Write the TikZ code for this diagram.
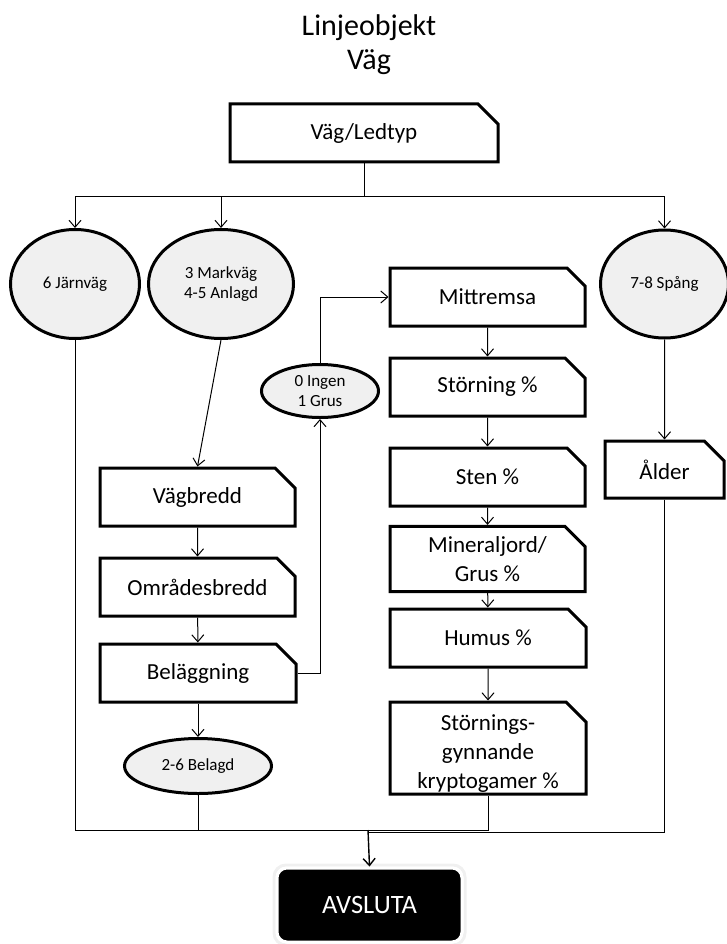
\documentclass[tikz,border=0pt]{standalone}
\usepackage{fontspec}
\setmainfont{Carlito}
\usetikzlibrary{shapes.geometric,shapes.misc,arrows.meta}
\definecolor{ellfill}{RGB}{240,240,240}
\begin{document}
\begin{tikzpicture}[x=1pt,y=-1pt,
 boxst/.style={chamfered rectangle, chamfered rectangle corners=north east,
   chamfered rectangle xsep=10pt, chamfered rectangle ysep=10pt,
   draw, line width=3pt, fill=white, inner sep=0pt,
   minimum width=#1, minimum height=58pt, align=center,
   font=\fontsize{23}{29}\selectfont},
 boxst/.default=195pt,
 ellst/.style={ellipse, draw, line width=3pt, fill=ellfill, inner sep=0pt,
   align=center, font=\fontsize{17}{20}\selectfont},
 arr/.style={-{Straight Barb[length=7pt,width=12pt]}, line width=1pt},
 conn/.style={line width=1pt}
]
\useasboundingbox (0,0) rectangle (726,944);

\node[align=center, font=\fontsize{30}{34}\selectfont] (title) at (369,45) {Linjeobjekt\\Väg};

\node[boxst=268pt] (vl) at (364,133) {Väg/Ledtyp};

\node[ellst, minimum width=129pt, minimum height=109pt] (jarn) at (75,284) {6 Järnväg};
\node[ellst, minimum width=145pt, minimum height=109pt] (mark) at (221,284) {3 Markväg\\4-5 Anlagd};
\node[ellst, minimum width=128pt, minimum height=108pt] (spang) at (664.5,284) {7-8 Spång};

\node[boxst] (vagb) at (197.5,497) {Vägbredd};
\node[boxst] (omr) at (197.5,587) {Områdesbredd};
\node[boxst=196pt] (bel) at (198,673) {Beläggning};
\node[ellst, minimum width=147pt, minimum height=55pt] (belagd) at (198,766) {2-6 Belagd};

\node[ellst, minimum width=117pt, minimum height=53pt] (ingen) at (320,391) {0 Ingen\\1 Grus};

\node[boxst] (mitt) at (487.5,297) {Mittremsa};
\node[boxst] (storn) at (487.5,387) {Störning \%};
\node[boxst] (sten) at (487.5,477) {Sten \%};
\node[boxst] (miner) at (487.5,559) {Mineraljord/\\Grus \%};
\node[boxst=196pt] (humus) at (488,638) {Humus \%};

\node[boxst=196pt, minimum height=92pt] (kryp) at (488,748)
  {\raisebox{0pt}[17.5pt][52.5pt]{\parbox[t]{170pt}{\centering Störnings-\\gynnande\\kryptogamer \%}}};

\node[boxst=119pt, minimum height=57pt] (alder) at (664.5,469.5) {Ålder};

\node[rounded corners=12pt, draw=gray!12, line width=3pt,
  minimum width=191pt, minimum height=80pt] (avsglow) at (369.5,905) {};
\node[rounded corners=10pt, fill=black, draw=white, line width=3pt,
  minimum width=185pt, minimum height=74pt, text=white,
  font=\fontsize{26.5}{30}\selectfont] (avs) at (369.5,905) {AVSLUTA};

% connectors
\coordinate (top) at (364,196);
\draw[conn] (vl.south) -- (top);
\draw[arr] (top) -| (jarn.north);
\draw[arr] (top) -| (mark.north);
\draw[arr] (top) -| (spang.north);

\draw[arr] (mark.south) -- (vagb.north);
\draw[arr] (vagb) -- (omr);
\draw[arr] (omr) -- (bel);
\draw[arr] (bel) -- (belagd);
\draw[arr] (bel.east) -| (ingen.south);
\draw[arr] (ingen.north) |- (mitt.west);

\draw[arr] (mitt) -- (storn);
\draw[arr] (storn) -- (sten);
\draw[arr] (sten) -- (miner);
\draw[arr] (miner) -- (humus);
\draw[arr] (humus) -- (kryp);

\draw[arr] (spang) -- (alder);

\coordinate (m1) at (75,830);
\coordinate (m2) at (488,830);
\coordinate (m3) at (368,830);
\coordinate (m4) at (664.5,832);
\draw[conn] (jarn.south) -- (m1) -- (m2) -- (kryp.south);
\draw[conn] (belagd.south) -- (belagd.south |- m1);
\draw[conn] (alder.south) -- (m4) -- (m3 |- m4);
\draw[arr, line width=1.4pt] (m3) -- (avs.north);
\end{tikzpicture}
\end{document}
